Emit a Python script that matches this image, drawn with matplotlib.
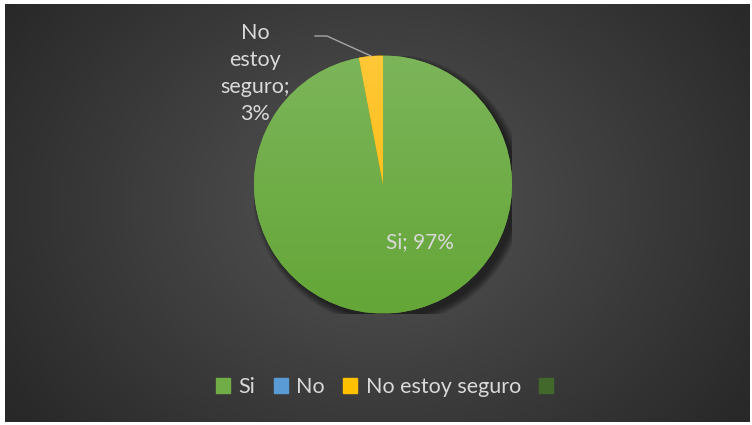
import numpy as np
import matplotlib
matplotlib.use("Agg")
import matplotlib.pyplot as plt
from matplotlib.patches import Rectangle, Circle

plt.rcParams['font.family'] = ['Lato', 'DejaVu Sans']

categories = ['Si', 'No', 'No estoy seguro', '']
values = [97, 0, 3, 0]
colors = ['#70ad47', '#5b9bd5', '#ffc000', '#43682b']

W, H = 752, 425
fig = plt.figure(figsize=(W / 100, H / 100), dpi=100, facecolor='white')

# dark radial background
bg = fig.add_axes([5 / W, 3 / H, 745 / W, 418 / H])
bg.axis('off')
yy, xx = np.mgrid[0:418, 0:745]
r = np.sqrt(((xx - 375) / 420.0) ** 2 + ((yy - 200) / 330.0) ** 2)
shade = np.clip(0.33 - 0.16 * r, 0.16, 0.33)
bg.imshow(np.dstack([shade] * 3), aspect='auto', extent=[0, 1, 0, 1])
bg.set_xlim(0, 1)
bg.set_ylim(0, 1)

# pie axes
cx, cy, rad = 383, 184.5, 129
ax = fig.add_axes([(cx - rad) / W, 1 - (cy + rad) / H, 2 * rad / W, 2 * rad / H])
ax.axis('off')
ax.set_xlim(-1, 1)
ax.set_ylim(-1, 1)

# soft shadow
for i in range(10):
    ax.add_patch(Circle((0.04, -0.04), 1.0 + 0.006 * i, color='black',
                        alpha=0.06, lw=0, zorder=0))

wedges, _ = ax.pie(values, colors=colors, startangle=90, counterclock=False,
                   radius=1, wedgeprops=dict(linewidth=0))
for w in wedges:
    w.set_zorder(2)

# vertical gradient on the slices
gy = np.linspace(1, 0, 200)[:, None]
grad_g = np.ones((200, 2, 3))
grad_g[..., 0] = (0x7c + (0x64 - 0x7c) * (1 - gy)) / 255
grad_g[..., 1] = (0xb5 + (0xa6 - 0xb5) * (1 - gy)) / 255
grad_g[..., 2] = (0x5a + (0x37 - 0x5a) * (1 - gy)) / 255
im = ax.imshow(grad_g, extent=[-1, 1, -1, 1], aspect='auto', zorder=3)
im.set_clip_path(wedges[0])

grad_y = np.ones((200, 2, 3))
grad_y[..., 0] = 1.0
grad_y[..., 1] = (0xc7 + (0xbb - 0xc7) * (1 - gy)) / 255
grad_y[..., 2] = (0x38 + (0x00 - 0x38) * (1 - gy)) / 255
im2 = ax.imshow(grad_y, extent=[-1, 1, -1, 1], aspect='auto', zorder=3)
im2.set_clip_path(wedges[2])
ax.set_xlim(-1, 1)
ax.set_ylim(-1, 1)

txt = '#d9d9d9'
ax.text(0.29, -0.45, f'{categories[0]}; {values[0]}%', color=txt,
        fontsize=15, ha='center', va='center', zorder=5)
ax.text(-0.99, 0.86, f'No\nestoy\nseguro;\n{values[2]}%', color=txt,
        fontsize=15.5, ha='center', va='center', linespacing=1.45, zorder=5)
ax.plot([-0.527, -0.434, -0.093], [1.151, 1.151, 0.996], color='#a6a6a6',
        lw=1, clip_on=False, zorder=5)

handles = [Rectangle((0, 0), 1, 1, color=c) for c in colors]
leg = fig.legend(handles, categories, loc='center', bbox_to_anchor=(0.517, 1 - 387 / H),
                 ncol=4, frameon=False, fontsize=15.5, handlelength=0.65,
                 handleheight=0.65, handletextpad=0.4, columnspacing=0.85)
for t in leg.get_texts():
    t.set_color(txt)

fig.savefig('out.png', dpi=100, facecolor='white')
